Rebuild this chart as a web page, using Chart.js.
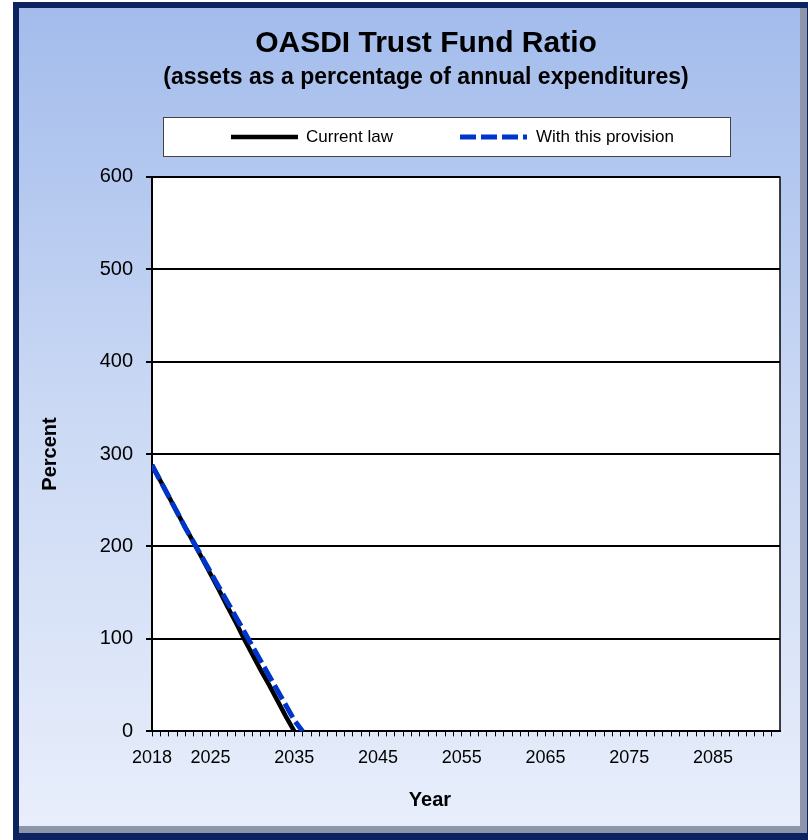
<!DOCTYPE html>
<html>
<head>
<meta charset="utf-8">
<script src="https://cdn.jsdelivr.net/npm/chart.js@4.4.1/dist/chart.umd.min.js"></script>
<style>
  html, body { margin: 0; padding: 0; background: #fff; }
  #wrap { width: 808px; height: 840px; }
</style>
</head>
<body>
<div id="wrap"><canvas id="ratioChart" width="808" height="840"></canvas></div>
<script>
const years = [2018, 2019, 2020, 2021, 2022, 2023, 2024, 2025, 2026, 2027, 2028, 2029, 2030, 2031, 2032, 2033, 2034, 2035, 2036];
const currentLaw = [288, 271, 254, 237, 220, 204, 187, 170, 153, 135, 118, 100, 83, 66, 50, 33, 16, 0, null];
const withProvision = [288, 271, 254, 237, 220, 204, 188, 172, 156, 140, 124, 108, 92, 76, 60, 44, 28, 12, 0];
const xLabelYears = [2018, 2025, 2035, 2045, 2055, 2065, 2075, 2085];
const yTickValues = [0, 100, 200, 300, 400, 500, 600];
const xFirstYear = 2018, xLastYear = 2093;

const FONT = '"Liberation Sans", Arial, sans-serif';
const subtitleText = '(assets as a percentage of annual expenditures)';

function toPoints(vals) {
    return years.map((y, i) => ({ x: y, y: vals[i] })).filter(p => p.y !== null);
}

const framePlugin = {
    id: 'frame',
    afterLayout(chart) {
        // titles sit a bit right of the canvas centre
        const shift = 19;
        chart.boxes.forEach(b => {
            if (b === chart.titleBlock || (b.options && b.options.text === subtitleText)) {
                b.left += shift;
                b.right += shift;
            }
        });
    },
    beforeDraw(chart) {
        const ctx = chart.ctx, a = chart.chartArea;
        ctx.save();
        ctx.fillStyle = '#fff';
        ctx.fillRect(0, 0, chart.width, chart.height);
        ctx.fillStyle = '#0b2460';
        ctx.fillRect(13, 2, chart.width - 13, chart.height - 2);
        ctx.fillStyle = '#8d96a8';
        ctx.fillRect(19, 8, 788, 825);
        const g = ctx.createLinearGradient(0, 8, 0, 826);
        g.addColorStop(0, '#a3bcec');
        g.addColorStop(0.5, '#cbd9f4');
        g.addColorStop(1, '#e8eefb');
        ctx.fillStyle = g;
        ctx.fillRect(19, 8, 781, 818);
        ctx.fillStyle = '#fff';
        ctx.fillRect(a.left, a.top, a.right - a.left, a.bottom - a.top);
        ctx.restore();
    },
    afterDraw(chart) {
        const ctx = chart.ctx, a = chart.chartArea;
        ctx.save();
        // right edge of plot frame
        ctx.strokeStyle = '#000';
        ctx.lineWidth = 1.5;
        ctx.beginPath();
        ctx.moveTo(a.right, a.top);
        ctx.lineTo(a.right, a.bottom);
        ctx.stroke();

        // legend box
        ctx.fillStyle = '#fff';
        ctx.fillRect(163, 117, 567, 39);
        ctx.strokeStyle = '#444';
        ctx.lineWidth = 1;
        ctx.strokeRect(163.5, 117.5, 567, 39);
        const items = [
            { x0: 231, x1: 298, tx: 306 },
            { x0: 460, x1: 527, tx: 536 }
        ];
        chart.data.datasets.forEach((ds, i) => {
            const it = items[i];
            ctx.strokeStyle = ds.borderColor;
            ctx.lineWidth = ds.borderWidth;
            ctx.setLineDash(ds.borderDash || []);
            ctx.lineCap = 'butt';
            ctx.beginPath();
            ctx.moveTo(it.x0, 137);
            ctx.lineTo(it.x1, 137);
            ctx.stroke();
            ctx.setLineDash([]);
            ctx.fillStyle = '#000';
            ctx.font = '17px ' + FONT;
            ctx.textBaseline = 'middle';
            ctx.textAlign = 'left';
            ctx.fillText(ds.label, it.tx, 137);
        });

        // x axis title
        ctx.font = 'bold 20px ' + FONT;
        ctx.textAlign = 'center';
        ctx.textBaseline = 'middle';
        ctx.fillStyle = '#000';
        ctx.fillText('Year', 430, 800);
        ctx.restore();
    }
};

new Chart(document.getElementById('ratioChart'), {
    type: 'line',
    data: {
        datasets: [
            {
                label: 'Current law',
                data: toPoints(currentLaw),
                borderColor: '#000000',
                borderWidth: 4.5,
                pointRadius: 0,
                tension: 0,
                order: 1
            },
            {
                label: 'With this provision',
                data: toPoints(withProvision),
                borderColor: '#0035cc',
                borderWidth: 5,
                borderDash: [16, 5],
                pointRadius: 0,
                tension: 0,
                order: 0
            }
        ]
    },
    options: {
        responsive: false,
        animation: false,
        layout: { padding: { top: 10, left: 34, right: 28, bottom: 60 } },
        plugins: {
            legend: { display: false },
            tooltip: { enabled: false },
            title: {
                display: true,
                text: 'OASDI Trust Fund Ratio',
                color: '#000',
                font: { family: FONT, size: 30, weight: 'bold' },
                padding: { top: 16, bottom: 0 }
            },
            subtitle: {
                display: true,
                text: subtitleText,
                color: '#000',
                font: { family: FONT, size: 23, weight: 'bold' },
                padding: { top: 2, bottom: 85 }
            }
        },
        scales: {
            x: {
                type: 'linear',
                min: xFirstYear,
                max: xLastYear,
                afterBuildTicks: scale => {
                    const t = [];
                    for (let y = xFirstYear; y < xLastYear; y++) t.push({ value: y });
                    scale.ticks = t;
                },
                ticks: {
                    autoSkip: false,
                    maxRotation: 0,
                    padding: 11,
                    color: '#000',
                    font: { family: FONT, size: 18 },
                    callback: v => xLabelYears.includes(v) ? String(v) : ''
                },
                grid: { drawOnChartArea: false, drawTicks: true, tickLength: 5, color: '#000', lineWidth: 1 },
                border: { display: true, color: '#000', width: 2 }
            },
            y: {
                min: 0,
                max: 600,
                afterBuildTicks: scale => { scale.ticks = yTickValues.map(v => ({ value: v })); },
                afterFit: scale => { scale.width = 118; },
                ticks: {
                    padding: 13,
                    color: '#000',
                    font: { family: FONT, size: 20 }
                },
                grid: { color: '#000', lineWidth: 2, tickLength: 6 },
                border: { display: true, color: '#000', width: 2 },
                title: {
                    display: true,
                    text: 'Percent',
                    color: '#000',
                    font: { family: FONT, size: 20, weight: 'bold' },
                    padding: { top: 4, bottom: 4 }
                }
            }
        }
    },
    plugins: [framePlugin]
});
</script>
</body>
</html>
